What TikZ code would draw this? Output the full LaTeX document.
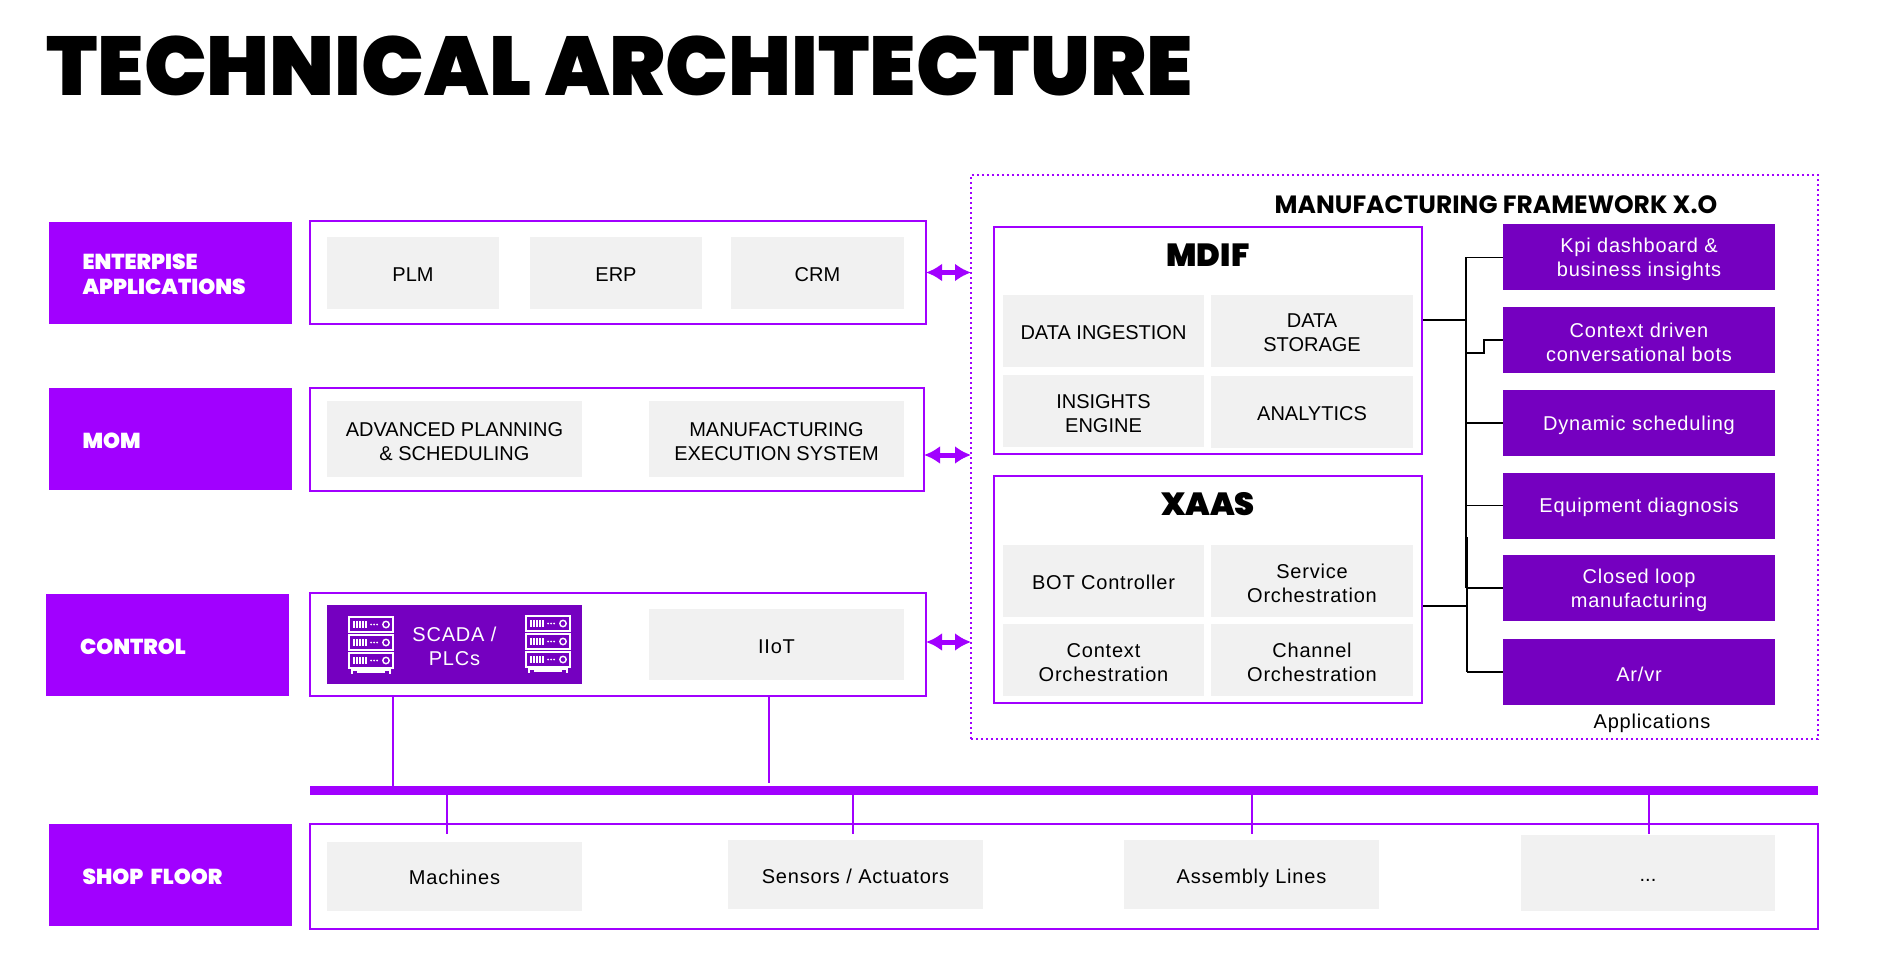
\documentclass[tikz,border=0pt]{standalone}
\usepackage{fontspec}
\usepackage{xcolor}
\usetikzlibrary{arrows.meta, positioning, calc}
\setmainfont{Liberation Sans}
\newfontfamily\headfont{Poppins}[UprightFont=* Black]
\newfontfamily\framefont{Poppins}[UprightFont=* Bold]
\newfontfamily\lowfont{Liberation Sans}[LetterSpace=4]
\definecolor{mypurple}{RGB}{161,0,255}
\definecolor{mydeep}{RGB}{117,0,192}
\definecolor{mygrey}{RGB}{241,241,241}
\newcommand{\twolines}[2]{\raisebox{-1.1pt}[\height][\depth]{#1}\\\raisebox{-1.1pt}[\height][\depth]{#2}}
\tikzset{
  boxsize/.style 2 args={minimum width=#1*0.5pt, minimum height=#2*0.5pt},
  sidebox/.style={rectangle, fill=mypurple, text=white, text width=87.5pt, inner xsep=17pt,
    inner ysep=0pt, minimum height=51pt, align=left, font=\headfont\fontsize{10.8}{12.5}\selectfont,
    execute at begin node={\rule{0pt}{9.5pt}}},
  groupbox/.style={rectangle, draw=mypurple, line width=1pt, fill=white, inner sep=0pt},
  cell/.style={rectangle, fill=mygrey, inner sep=0pt, align=center, font=\fontsize{10}{12}\selectfont,
    execute at begin node={\rule{0pt}{8.3pt}}},
  lowcell/.style={cell, font=\lowfont\fontsize{10}{12}\selectfont,
    execute at begin node={\rule{0pt}{9.5pt}}},
  darkcell/.style={lowcell, fill=mydeep, text=white},
  appbox/.style={darkcell, boxsize={272}{66}},
  biarrow/.style={{Latex[length=8pt,width=9pt]}-{Latex[length=8pt,width=9pt]}, color=mypurple, line width=2.5pt,
    shorten <=-0.5pt, shorten >=-0.5pt},
  tap/.style={color=mypurple, line width=1pt},
  wire/.style={color=black, line width=0.8pt},
  grouptitle/.style={font=\headfont\fontsize{16}{19}\selectfont},
  pics/serverrack/.style={code={
    \foreach \u in {0,18,36} {
      \draw[white, line width=0.7pt] (0,\u) rectangle (44,\u+15);
      \foreach \t in {5,8,11,14,17} \draw[white, line width=0.6pt] (\t,\u+4) -- (\t,\u+11);
      \foreach \t in {22,25,28} \fill[white] (\t,\u+7.5) circle (0.5pt);
      \draw[white, line width=0.7pt] (37,\u+7.5) circle (1.6pt);
    }
    \draw[white, line width=0.7pt] (3,51) -- (3,57) (41,51) -- (41,57) (3,53) -- (41,53) (8,55) -- (36,55);
  }}
}
\begin{document}
\begin{tikzpicture}[x=0.5pt, y=-0.5pt]
  \useasboundingbox (0,0) rectangle (1900,973);
  \node[anchor=west, inner sep=0pt, font=\headfont\fontsize{41.7}{50}\selectfont] (title) at (46,66) {TECHNICAL ARCHITECTURE};

  % left hand labels
  \node[sidebox] (entlabel) at (170,273) {ENTERPISE\\APPLICATIONS};
  \node[sidebox] (momlabel) at (170,439) {MOM};
  \node[sidebox] (ctrllabel) at (167.5,645) {CONTROL};
  \node[sidebox] (shoplabel) at (170,875) {SHOP FLOOR};

  % enterprise row
  \node[groupbox, boxsize={616}{103}] (ent) at (618,272.5) {};
  \node[cell, boxsize={172}{72}] (plm) at (413,273) {PLM};
  \node[cell, boxsize={172}{72}] (erp) at (616,273) {ERP};
  \node[cell, boxsize={173}{72}] (crm) at (817.5,273) {CRM};

  % mom row
  \node[groupbox, boxsize={614}{103}] (mom) at (617,439.5) {};
  \node[cell, boxsize={255}{76}] (aps) at (454.5,439) {\twolines{ADVANCED PLANNING}{\& SCHEDULING}};
  \node[cell, boxsize={255}{76}] (mes) at (776.5,439) {\twolines{MANUFACTURING}{EXECUTION SYSTEM}};

  % control row
  \node[groupbox, boxsize={616}{103}] (ctrl) at (618,644.5) {};
  \node[darkcell, boxsize={255}{79}] (scada) at (454.5,644.5) {\twolines{SCADA /}{PLCs}};
  \pic at (349,617) {serverrack};
  \pic at (526,616) {serverrack};
  \node[lowcell, boxsize={255}{71}] (iiot) at (776.5,644.5) {IIoT};

  % shop floor row
  \node[groupbox, boxsize={1508}{105}] (shop) at (1064,876.5) {};
  \node[cell, font=\lowfont\fontsize{10}{12}\selectfont, boxsize={255}{69}] (machines) at (454.5,876.5) {Machines};
  \node[lowcell, boxsize={255}{69}] (sensors) at (855.5,874.5) {Sensors / Actuators};
  \node[lowcell, boxsize={255}{69}, execute at begin node={\rule{0pt}{10.8pt}}] (assembly) at (1251.5,874.5) {Assembly Lines};
  \node[cell, boxsize={254}{76}, execute at begin node={\rule{0pt}{8pt}}] (more) at (1648,873) {...};

  % bus
  \node[rectangle, fill=mypurple, inner sep=0pt, boxsize={1508}{9}] (bus) at (1064,790.5) {};
  \coordinate (tapA) at (393,0);
  \coordinate (tapB) at (769,783);
  \coordinate (tapC) at (447,834);
  \coordinate (tapD) at (853,834);
  \coordinate (tapE) at (1252,834);
  \coordinate (tapF) at (1649,834);
  \draw[tap] (tapA |- ctrl.south) -- (tapA |- bus.north);
  \draw[tap] (tapB |- ctrl.south) -- (tapB);
  \foreach \t in {tapC,tapD,tapE,tapF}
    \draw[tap] (\t |- bus.south) -- (\t);

  % framework
  \node[rectangle, draw=mypurple, line width=1pt, dash pattern=on 1pt off 1.5pt, inner sep=0pt, boxsize={847}{564}] (frame) at (1394.5,457) {};
  \node[inner sep=0pt, font=\framefont\fontsize{12.5}{14}\selectfont] (frametitle) at (1496,205) {MANUFACTURING FRAMEWORK X.O};

  \node[groupbox, boxsize={428}{227}] (mdif) at (1208,340.5) {};
  \node[grouptitle] (mdiftitle) at (1208,255) {MDIF};
  \node[cell, boxsize={201}{72}] (ingest) at (1103.5,331) {DATA INGESTION};
  \node[cell, boxsize={202}{72}] (storage) at (1312,331) {\twolines{DATA}{STORAGE}};
  \node[cell, boxsize={201}{72}] (insights) at (1103.5,411) {\twolines{INSIGHTS}{ENGINE}};
  \node[cell, boxsize={202}{72}] (analytics) at (1312,412) {ANALYTICS};

  \node[groupbox, boxsize={428}{227}] (xaas) at (1208,589.5) {};
  \node[grouptitle] (xaastitle) at (1208,504) {XAAS};
  \node[cell, font=\lowfont\fontsize{10}{12}\selectfont, boxsize={201}{72}] (bot) at (1103.5,581) {BOT Controller};
  \node[lowcell, boxsize={202}{72}] (service) at (1312,581) {\twolines{Service}{Orchestration}};
  \node[lowcell, boxsize={201}{72}] (context) at (1103.5,660) {\twolines{Context}{Orchestration}};
  \node[lowcell, boxsize={202}{72}] (channel) at (1312,660) {\twolines{Channel}{Orchestration}};

  % applications
  \node[appbox] (kpi) at (1639,257.5) {\twolines{Kpi dashboard \&}{business insights}};
  \node[appbox] (bots) at (1639,340) {\twolines{Context driven}{conversational bots}};
  \node[appbox] (sched) at (1639,423) {Dynamic scheduling};
  \node[appbox] (diag) at (1639,505.5) {Equipment diagnosis};
  \node[appbox] (loop) at (1639,588) {\twolines{Closed loop}{manufacturing}};
  \node[appbox] (arvr) at (1639,672) {Ar/vr};
  \node[inner sep=0pt, font=\lowfont\fontsize{10}{12}\selectfont] (applabel) at (1652,723) {Applications};

  \coordinate (trunkA) at (1466,320);
  \coordinate (trunkB) at (1467,606);
  \coordinate (jog) at (1484,353);
  \draw[wire] (mdif.east |- trunkA) -- (trunkA);
  \draw[wire] (xaas.east |- trunkB) -- (trunkB);
  \draw[wire] (trunkA |- kpi.west) -- (trunkA |- loop.west);
  \draw[wire] (trunkB |- 0,537) -- (trunkB |- arvr.west);
  \draw[wire] (trunkA |- kpi.west) -- (kpi.west);
  \draw[wire] (trunkA |- jog) -- (jog) |- (bots.west);
  \foreach \a in {sched,diag,loop,arvr}
    \draw[wire] (trunkB |- \a.west) -- (\a.west);

  % links to the framework
  \coordinate (linkB) at (0,455);
  \coordinate (linkC) at (0,642);
  \draw[biarrow] (ent.east) -- (frame.west |- ent.east);
  \draw[biarrow] (mom.east |- linkB) -- (frame.west |- linkB);
  \draw[biarrow] (ctrl.east |- linkC) -- (frame.west |- linkC);
\end{tikzpicture}
\end{document}
